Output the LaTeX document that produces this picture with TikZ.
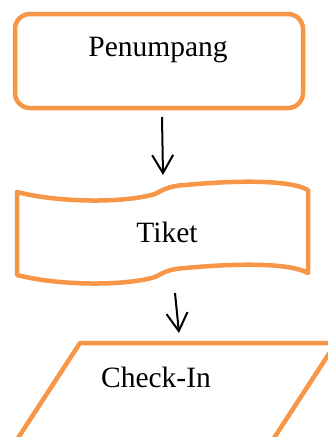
\documentclass[tikz,border=0pt]{standalone}
\usepackage{fontspec}
\setmainfont{Liberation Serif}
\usetikzlibrary{arrows.meta}
\definecolor{flowline}{RGB}{247,150,70}
\tikzset{
  shapeline/.style={draw=flowline, line width=4.5pt, line join=round},
  procbox/.style={shapeline, rounded corners=15pt, minimum width=288pt, minimum height=94pt, inner sep=0pt},
  lbl/.style={font=\fontsize{29.5}{34}\selectfont, inner sep=0pt},
  flow/.style={line width=2pt, -{Straight Barb[length=18pt,width=21pt,line width=2pt]}}
}
\begin{document}
\begin{tikzpicture}[x=1pt,y=-1pt]
  \useasboundingbox (0,0) rectangle (328,437);
  \clip (0,0) rectangle (328,437);
  \fill[white] (0,0) rectangle (328,437);

  % terminal box
  \node[procbox] (penumpang) at (159,61) {};
  \node[lbl] (penumpangtxt) at (158,50) {Penumpang};

  % punched-tape document
  \draw[shapeline] (17,192) .. controls (60,203) and (125,203) .. (155,194)
    .. controls (163,190) and (168,186) .. (185,185)
    .. controls (240,180) and (290,180) .. (308,190)
    -- (308,273)
    .. controls (290,263) and (240,263) .. (185,268)
    .. controls (168,269) and (163,273) .. (155,277)
    .. controls (125,286) and (60,286) .. (17,275) -- cycle;
  \node[lbl] (tiket) at (167,232) {Tiket};

  % input/output parallelogram
  \draw[shapeline] (80,343) -- (336,343) -- (261,458) -- (5,458) -- cycle;
  \node[lbl] (checkin) at (156,377) {Check-In};

  % connectors
  \coordinate (a1s) at (162,117);
  \coordinate (a1e) at (163,175);
  \coordinate (a2s) at (175,293);
  \coordinate (a2e) at (179,333);
  \draw[flow] (a1s) -- (a1e);
  \draw[flow] (a2s) -- (a2e);
\end{tikzpicture}
\end{document}
